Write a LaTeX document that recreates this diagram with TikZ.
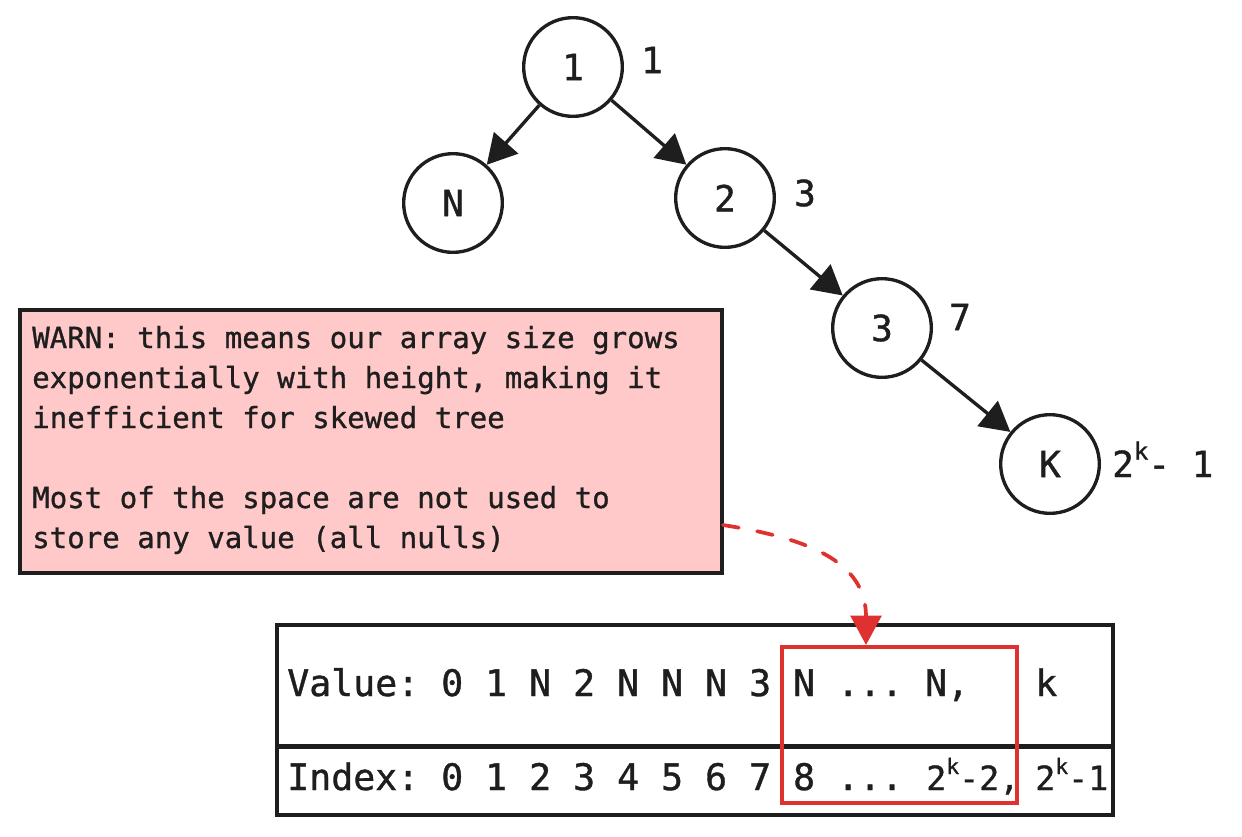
\documentclass[tikz,border=0pt]{standalone}
\usepackage{fontspec}
\usetikzlibrary{arrows.meta}
\newfontfamily\mono[FakeBold=1]{DejaVu Sans Mono}
\definecolor{ink}{HTML}{1E1E1E}
\definecolor{warnfill}{HTML}{FFC9C9}
\definecolor{warnred}{HTML}{E03131}
\newcommand\supk[1]{\raisebox{0.48em}{\fontsize{#1}{#1}\selectfont k}}
\begin{document}
\begin{tikzpicture}[x=0.75pt,y=-0.75pt,
  tnode/.style={circle, draw=ink, line width=2.5pt, minimum size=74pt, inner sep=0pt,
    font=\mono\fontsize{27}{27}\selectfont, text=ink},
  lbl/.style={font=\mono\fontsize{27}{27}\selectfont, text=ink, inner sep=0pt},
  treearrow/.style={draw=ink, line width=2.5pt, -{Triangle[length=22pt,width=24pt]}},
  warnbox/.style={draw=ink, fill=warnfill, line width=2.5pt, minimum width=526.5pt,
    minimum height=197.25pt, inner sep=0pt},
  wtext/.style={font=\mono\fontsize{21.8}{30}\selectfont\frenchspacing, text=ink,
    inner sep=0pt, anchor=base west},
  cell/.style={draw=ink, line width=2.5pt, minimum width=627pt, inner sep=0pt},
  vtext/.style={font=\mono\fontsize{27.4}{30}\selectfont\frenchspacing, text=ink,
    inner sep=0pt, anchor=base west},
  tailtext/.style={font=\mono\fontsize{25}{30}\selectfont\frenchspacing, text=ink,
    inner sep=0pt, anchor=base west},
  redbox/.style={draw=warnred, line width=2.8pt, minimum width=176.25pt,
    minimum height=117pt, inner sep=0pt},
  dasharrow/.style={draw=warnred, line width=2.8pt, line cap=round,
    dash pattern=on 12pt off 14pt, -{Triangle[length=22pt,width=23pt]}}
]
\useasboundingbox[fill=white] (0,0) rectangle (1242,836);

% tree
\node[tnode] (n1) at (573,67) {1};
\node[tnode] (nN) at (453,203) {N};
\node[tnode] (n2) at (725,198) {2};
\node[tnode] (n3) at (882,328) {3};
\node[tnode] (nK) at (1050,464) {K};

\node[lbl] (l1) at (652,60) {1};
\node[lbl] (l2) at (805,193) {3};
\node[lbl] (l3) at (960,317) {7};
\node[lbl, anchor=base west] (l4) at (1112,477) {2\supk{18}- 1};

\draw[treearrow] (n1) -- (nN);
\draw[treearrow] (n1) -- (n2);
\draw[treearrow] (n2) -- (n3);
\draw[treearrow] (n3) -- (nK);

% warning box
\node[warnbox] (warn) at (371,441.5) {};
\node[wtext] (w1) at (32,348) {WARN: this means our array size grows};
\node[wtext] (w2) at (32,388) {exponentially with height, making it};
\node[wtext] (w3) at (32,428) {inefficient for skewed tree};
\node[wtext] (w4) at (32,508) {Most of the space are not used to};
\node[wtext] (w5) at (32,548) {store any value (all nulls)};

% array
\node[cell, minimum height=90.75pt] (valrow) at (695,685.5) {};
\node[cell, minimum height=51pt] (idxrow) at (695,781) {};
\node[vtext] (vt) at (287,696) {Value: 0 1 N 2 N N N 3 N ... N,};
\node[vtext] (vk) at (1035,696) {k};
\node[vtext] (it) at (287,790) {Index: 0 1 2 3 4 5 6 7 8 ...};
\node[tailtext] (it2) at (926,790) {2\supk{16}-2,};
\node[tailtext] (it3) at (1035,790) {2\supk{16}-1};

% highlight
\node[redbox] (hl) at (899.5,725) {};
\coordinate (wout) at (723,525);
\coordinate (hlin) at (866,645);
\draw[dasharrow] (wout) .. controls (805,538) and (866,560) .. (hlin);
\end{tikzpicture}
\end{document}
